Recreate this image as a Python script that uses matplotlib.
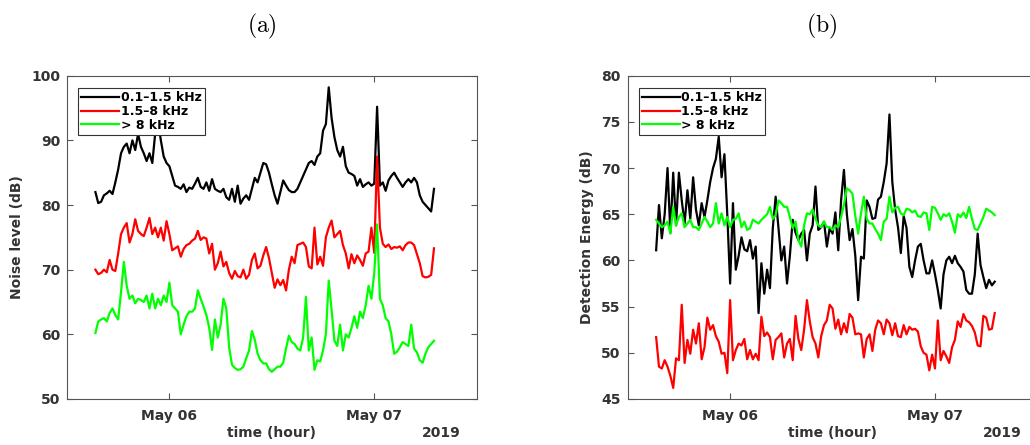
import numpy as np
import matplotlib
matplotlib.use('Agg')
import matplotlib.pyplot as plt
import matplotlib.dates as mdates

plt.rcParams['mathtext.fontset'] = 'cm'
plt.rcParams['font.family'] = ['DejaVu Sans']

# 20-minute samples, 2019-05-05 15:20 to 2019-05-07 07:00
t = np.datetime64('2019-05-05T15:20') + np.arange(120) * np.timedelta64(20, 'm')

labels = ['0.1\u20131.5 kHz', '1.5\u20138 kHz', '> 8 kHz']
colors = ['k', '#ff0000', '#00ff00']

# (a) noise level, dB
noise_low = [82, 80.3, 80.5, 81.5, 81.8, 82.2, 81.7, 83.5, 85.5, 88,
             89, 89.5, 88, 90, 88.5, 91, 89, 88, 86.8, 88,
             86.5, 91, 93, 90, 87.5, 86.5, 86, 84.5, 83, 82.8,
             82.5, 83.2, 82, 82.7, 82.5, 83.3, 84.2, 82.8, 82.5, 83.5,
             82.2, 84, 82.5, 82.2, 82, 82.5, 81.2, 80.8, 82.5, 80.5,
             83, 80.2, 81, 81.5, 80.8, 82.5, 84.2, 83.5, 85, 86.5,
             86.3, 85, 83.2, 81.5, 80.2, 82, 83.8, 83, 82.3, 82,
             82, 82.5, 83.5, 84.5, 85.5, 86.5, 86.8, 86.2, 87.5, 88,
             91.5, 92.5, 98.2, 93.5, 90.5, 88.5, 87.5, 89, 86, 85,
             84.8, 84.5, 83, 84, 82.8, 83.2, 83.5, 83, 83.3, 95.2,
             83, 83.5, 82.2, 83.8, 84.5, 85, 84.2, 83.5, 82.8, 83.5,
             84, 83.5, 84.2, 83.5, 81.5, 80.5, 80, 79.5, 79, 82.5]
noise_mid = [70, 69.3, 69.5, 70, 69.6, 71.5, 70, 69.8, 72.5, 75.5,
             76.5, 77.2, 74.2, 75.5, 77.8, 76, 75.5, 75.2, 76.5, 78,
             75.5, 76.5, 75, 76.5, 74.5, 77.5, 75.5, 73, 73.3, 73.6,
             72, 73.2, 73.8, 74, 74.5, 74.8, 76, 74.6, 75, 74.8,
             72.5, 74, 70, 71, 72.8, 70.5, 71.2, 69.5, 68.6, 69.8,
             69, 68.8, 70, 68.6, 69.2, 71.5, 72.5, 70.2, 70.6, 72.2,
             73.5, 71.8, 69.5, 67.2, 68.5, 67.6, 68.4, 66.8, 70, 72,
             71, 73.8, 74, 74.2, 73.5, 70.5, 70.2, 76.5, 70.8, 72,
             70.6, 75, 76.5, 77.6, 75, 75.5, 76, 73.8, 72.5, 70.2,
             72.4, 71, 72.2, 71.5, 70.6, 72.5, 72.8, 76.5, 72.6, 87.5,
             76.5, 74, 73.5, 73.9, 73.2, 73.5, 73.4, 73.6, 73, 73.8,
             74.2, 74.2, 73.8, 72.4, 71, 69, 68.8, 68.9, 69.2, 73.3]
noise_high = [60.2, 62, 62.3, 62.5, 62, 63.3, 64, 63, 62.3, 66.5,
              71.2, 67.5, 65.5, 66, 64.8, 65.5, 65.3, 65, 66, 64,
              66.3, 64, 65.5, 64.5, 66, 65, 68, 64.5, 64, 63.5,
              60, 61.5, 62.8, 63.5, 63.5, 64, 66.8, 65.5, 64.3, 63,
              61, 57.6, 62.3, 59.5, 61.5, 65.5, 64, 58, 55.3, 54.8,
              54.5, 54.6, 55, 56.3, 57.5, 60.5, 59.2, 57, 56, 55.5,
              55.5, 54.6, 54.2, 54.6, 55, 55, 55.6, 57.8, 59.8, 58.8,
              58.5, 57.8, 57.5, 59.5, 65.8, 57.5, 59.5, 54.5, 56, 55.8,
              57.5, 60, 68.3, 63.8, 59, 58.2, 61.5, 57.5, 60, 59.5,
              61, 62.8, 61, 63.5, 62.5, 64.5, 67.5, 65.5, 69.5, 77,
              65.5, 64.5, 62.5, 62, 60, 57, 57.3, 58, 58.8, 58.5,
              58.2, 61.5, 57.8, 57.2, 56, 55.6, 57, 58, 58.5, 59]

# (b) detection energy, dB
det_low = [61.1, 66, 62.4, 65, 70, 63, 69.5, 63.8, 69.5, 66.5,
           64, 67.6, 64.5, 69, 65.5, 63.8, 66.2, 64.7, 66.5, 68.5,
           70, 71, 73.4, 69, 71.5, 65, 57.5, 66.2, 59, 60.5,
           62.5, 61.2, 61, 62.2, 60.2, 61.5, 54.3, 59.7, 56.4, 59,
           57, 63.5, 66.9, 63.5, 60, 61.5, 57.5, 60.5, 64.4, 63,
           62.2, 62.9, 63.3, 60, 62.9, 63.8, 68, 63.3, 63.6, 64.2,
           61.5, 63.5, 62.9, 65.2, 61.1, 66.5, 69.8, 65.1, 62.2, 63.4,
           60.5, 55.7, 60.4, 60.2, 66.5, 65.8, 64.5, 64.6, 66.6, 66.9,
           68.5, 70.5, 75.8, 68.5, 65.5, 63.6, 60.8, 64.8, 63.5, 59.3,
           58.2, 60, 61.5, 61.8, 60, 58.6, 58.6, 60, 58.5, 56.8,
           54.8, 58.5, 60, 60.4, 59.7, 60.5, 59.7, 59.3, 58.8, 56.8,
           56.4, 56.4, 58.5, 62.9, 59.5, 58.2, 57, 57.9, 57.3, 57.7]
det_mid = [51.7, 48.5, 48.3, 49.2, 48.5, 47.5, 46.2, 49.4, 49.2, 55.2,
           48.9, 51.4, 49.9, 52.5, 51, 53.2, 49.3, 50.6, 53.8, 52.5,
           53, 51.8, 51.2, 49.9, 50, 47.8, 55.7, 49.2, 50.3, 51,
           50.8, 51.5, 49.3, 50.3, 49.3, 49.9, 49.2, 53.9, 51.8, 52.2,
           51.7, 49.3, 51.4, 51.7, 52.1, 49.5, 51, 51.5, 49.2, 54,
           51.5, 50.3, 52.5, 55.7, 53.4, 51.7, 51, 49.5, 51.8, 53,
           53.5, 55.2, 54.8, 52.6, 53.6, 52, 53.2, 52.2, 54.2, 53.8,
           52, 52.1, 52, 49.5, 51.5, 52, 50.2, 52.5, 53.5, 53.2,
           52, 53.6, 53.2, 51.9, 53.2, 51.8, 51.7, 53, 52, 52.8,
           52.5, 52.6, 52.3, 50.7, 50, 49.8, 48.1, 49.8, 48.3, 53.5,
           49.2, 50.2, 49.6, 48.9, 50.6, 51.4, 53.4, 52.8, 54.2, 53.5,
           53.3, 52.9, 52.2, 50.8, 50.7, 54, 53.8, 52.5, 52.6, 54.3]
det_high = [64.4, 64, 63.6, 63.8, 64.2, 62.9, 65.8, 63.8, 64.7, 65.1,
            63.6, 64, 64.4, 63.6, 63.6, 63.3, 64, 64.7, 64.2, 63.6,
            64, 66.2, 64, 65.1, 63.8, 64.7, 63.6, 64.4, 64.5, 65.1,
            63.6, 64.2, 63.3, 63.5, 64.4, 64.2, 64, 64.4, 64.7, 65,
            65.8, 64.5, 64.9, 66.5, 66.2, 65.8, 65.8, 64.7, 63.5, 64.2,
            62.2, 61.5, 63.8, 65.1, 65, 65.5, 64.5, 63.8, 63.6, 64.2,
            63.6, 63.6, 63.3, 63.8, 63.6, 64.7, 66, 67.8, 67.6, 67.2,
            64.8, 62.9, 65.1, 66.9, 64.5, 64, 64, 63.4, 62.9, 62.2,
            64.2, 64.5, 66.9, 65.2, 65.7, 65.8, 65.1, 64.9, 65.6, 65.5,
            65.2, 65.4, 64.8, 64.7, 65.2, 65.1, 63.3, 65.8, 65.7, 65.1,
            64.4, 65, 64.8, 65.1, 64.2, 63, 65, 64.7, 65.2, 64.6,
            65.8, 64.5, 63.4, 63.3, 64, 64.7, 65.6, 65.4, 65.2, 64.9]

fig = plt.figure(figsize=(10.3, 4.45), dpi=100)
ax_a = fig.add_axes([0.065, 0.1034, 0.3978, 0.7265])
ax_b = fig.add_axes([0.6094, 0.1034, 0.3978, 0.7265])

panels = [
    (ax_a, [noise_low, noise_mid, noise_high], (50, 100), np.arange(50, 101, 10),
     'Noise level (dB)', -0.105, r'$\mathrm{(a)}$', 0.254),
    (ax_b, [det_low, det_mid, det_high], (45, 80), np.arange(45, 81, 5),
     'Detection Energy (dB)', -0.081, r'$\mathrm{(b)}$', 0.798),
]

txt = '#333333'
for ax, series, ylim, yticks, ylabel, ylx, tag, tagx in panels:
    for y, c, lab in zip(series, colors, labels):
        ax.plot(t, y, color=c, lw=1.6, label=lab)

    ax.set_xlim(np.datetime64('2019-05-05T12:00'), np.datetime64('2019-05-07T12:00'))
    ax.set_ylim(*ylim)
    ax.set_yticks(yticks)
    ax.xaxis.set_major_locator(mdates.DayLocator())
    ax.xaxis.set_major_formatter(mdates.DateFormatter('%b %d'))

    ax.tick_params(direction='in', length=4, width=0.8, color='#555555',
                   top=True, right=True, labelsize=10, labelcolor=txt)
    ax.tick_params(axis='x', pad=7)
    ax.tick_params(axis='y', pad=5)
    for lbl in ax.get_xticklabels() + ax.get_yticklabels():
        lbl.set_fontweight('bold')
    for sp in ax.spines.values():
        sp.set_color('#555555')
        sp.set_linewidth(0.8)

    ax.set_ylabel(ylabel, fontsize=10, fontweight='bold', color=txt)
    ax.yaxis.set_label_coords(ylx, 0.5)
    ax.set_xlabel('time (hour)', fontsize=10, fontweight='bold', color=txt)
    ax.xaxis.set_label_coords(0.5, -0.085)
    ax.text(1 - 16 / 409.7, -0.085, '2019', transform=ax.transAxes, ha='right', va='top',
            fontsize=10, fontweight='bold', color=txt)

    leg = ax.legend(loc='upper left', bbox_to_anchor=(0.0276, 0.961), borderaxespad=0,
                    prop={'size': 9, 'weight': 'bold'}, handlelength=3.0, handletextpad=0.15,
                    labelspacing=0.05, borderpad=0.25, fancybox=False, framealpha=1)
    leg.get_frame().set_edgecolor('#333333')
    leg.get_frame().set_linewidth(0.8)

    fig.text(tagx, 1 - 26 / 445, tag, ha='center', va='center', fontsize=17)

fig.savefig('out.png', dpi=100)
